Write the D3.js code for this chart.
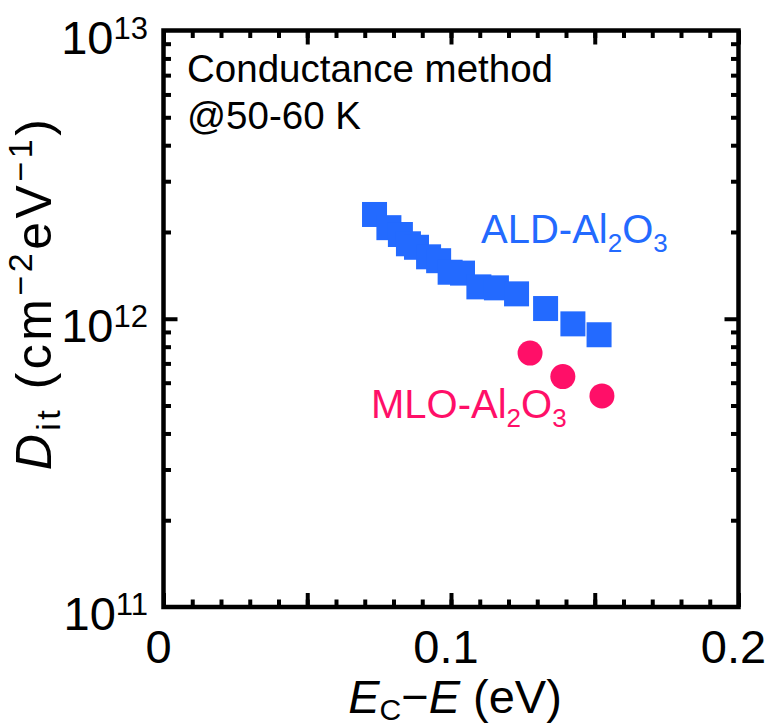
<!DOCTYPE html>
<html>
<head>
<meta charset="utf-8">
<script src="https://cdn.jsdelivr.net/npm/d3@7"></script>
<style>
  body { margin: 0; background: #fff; }
  svg text { font-family: "Liberation Sans", Arial, sans-serif; }
</style>
</head>
<body>
<div class="chart"></div>
<script>
// ALD-Al2O3 (squares) and MLO-Al2O3 (circles)
const aldE   = [0.0734, 0.0784, 0.0824, 0.0852, 0.0880, 0.0922, 0.0957, 0.0997, 0.1040, 0.1097, 0.1158, 0.1228, 0.1329, 0.1424, 0.1515];
const aldDit = [2.30e12, 2.07e12, 1.96e12, 1.82e12, 1.77e12, 1.64e12, 1.59e12, 1.45e12, 1.44e12, 1.29e12, 1.28e12, 1.22e12, 1.085e12, 0.96e12, 0.88e12];
const mloE   = [0.1275, 0.1389, 0.1525];
const mloDit = [7.6e11, 6.3e11, 5.4e11];

const xTickLabels = [0, 0.1, 0.2];
const yTickExps = [11, 12, 13];

const W = 775, H = 725;
const mLeft = 163.5, mRight = 738.5, mTop = 30.5, mBottom = 607;
const blue = "#236AFF", pink = "#FF0F68";

const svg = d3.select(".chart").append("svg")
    .attr("width", W).attr("height", H);

const x = d3.scaleLinear().domain([0, 0.2]).range([mLeft, mRight]);
const y = d3.scaleLog().domain([1e11, 1e13]).range([mBottom, mTop]);

// ticks: minor every 0.01, major every 0.05 (inward)
const xMinor = d3.range(0, 0.2001, 0.01);
const xMajor = d3.range(0, 0.2001, 0.05);
const yMinor = [];
[1e11, 1e12].forEach(d => { for (let k = 2; k <= 9; k++) yMinor.push(d * k); });
const yMajor = [1e12];

const minorLen = 7.5, majorLen = 14;

function tickAxis(axis, vals, len, tx) {
    const g = svg.append("g").attr("transform", tx)
        .call(axis.tickValues(vals).tickSizeInner(-len).tickSizeOuter(0).tickFormat(""));
    g.select(".domain").remove();
    g.selectAll("line").attr("stroke", "#000").attr("stroke-width", 4);
}
tickAxis(d3.axisBottom(x), xMinor, minorLen, `translate(0,${mBottom})`);
tickAxis(d3.axisBottom(x), xMajor, majorLen, `translate(0,${mBottom})`);
tickAxis(d3.axisTop(x), xMinor, minorLen, `translate(0,${mTop})`);
tickAxis(d3.axisTop(x), xMajor, majorLen, `translate(0,${mTop})`);
tickAxis(d3.axisLeft(y), yMinor, minorLen, `translate(${mLeft},0)`);
tickAxis(d3.axisLeft(y), yMajor, majorLen, `translate(${mLeft},0)`);
tickAxis(d3.axisRight(y), yMinor, minorLen, `translate(${mRight},0)`);
tickAxis(d3.axisRight(y), yMajor, majorLen, `translate(${mRight},0)`);

// frame
svg.append("rect")
    .attr("x", mLeft).attr("y", mTop)
    .attr("width", mRight - mLeft).attr("height", mBottom - mTop)
    .attr("fill", "none").attr("stroke", "#000").attr("stroke-width", 4.5);

// tick labels
svg.selectAll(".xlab").data(xTickLabels).enter().append("text")
    .attr("x", d => x(d) - 5)
    .attr("y", mBottom + 56)
    .attr("text-anchor", "middle")
    .attr("font-size", 47)
    .text(d => d === 0 ? "0" : d3.format(".1f")(d));

const ylab = svg.selectAll(".ylab").data(yTickExps).enter().append("text")
    .attr("x", 148)
    .attr("y", d => y(Math.pow(10, d)) + 23)
    .attr("text-anchor", "end")
    .attr("font-size", 47);
ylab.append("tspan").text("10");
ylab.append("tspan").attr("font-size", 31).attr("dy", -15).text(d => d);

// data
svg.selectAll(".ald").data(aldE).enter().append("rect")
    .attr("x", (d, i) => x(d) - 12.5)
    .attr("y", (d, i) => y(aldDit[i]) - 12.5)
    .attr("width", 25).attr("height", 25)
    .attr("fill", blue);

svg.selectAll(".mlo").data(mloE).enter().append("circle")
    .attr("cx", d => x(d))
    .attr("cy", (d, i) => y(mloDit[i]))
    .attr("r", 12.5)
    .attr("fill", pink);

// annotations
svg.append("text").attr("x", 187).attr("y", 82).attr("font-size", 38.5).text("Conductance method");
svg.append("text").attr("x", 187).attr("y", 129).attr("font-size", 38.5).text("@50-60 K");

const ald = svg.append("text").attr("x", 481).attr("y", 243).attr("font-size", 40).attr("fill", blue);
ald.append("tspan").text("ALD-Al");
ald.append("tspan").attr("font-size", 26).attr("dy", 9).text("2");
ald.append("tspan").attr("dy", -9).text("O");
ald.append("tspan").attr("font-size", 26).attr("dy", 9).text("3");

const mlo = svg.append("text").attr("x", 371).attr("y", 418).attr("font-size", 40).attr("fill", pink);
mlo.append("tspan").text("MLO-Al");
mlo.append("tspan").attr("font-size", 26).attr("dy", 9).text("2");
mlo.append("tspan").attr("dy", -9).text("O");
mlo.append("tspan").attr("font-size", 26).attr("dy", 9).text("3");

// axis titles
const xt = svg.append("text").attr("x", 455).attr("y", 713)
    .attr("text-anchor", "middle").attr("font-size", 47);
xt.append("tspan").attr("font-style", "italic").text("E");
xt.append("tspan").attr("font-size", 30).attr("dy", 7).text("C");
xt.append("tspan").attr("dy", -7).text("\u2212");
xt.append("tspan").attr("font-style", "italic").text("E");
xt.append("tspan").text(" (eV)");

const yt = svg.append("text")
    .attr("transform", "translate(51,293) rotate(-90)")
    .attr("text-anchor", "middle").attr("font-size", 50)
    .attr("letter-spacing", 3.5);
yt.append("tspan").attr("font-style", "italic").text("D");
yt.append("tspan").attr("font-size", 34).attr("dy", 9).text("it");
yt.append("tspan").attr("dy", -9).text(" (cm");
yt.append("tspan").attr("font-size", 34).attr("dy", -19).text("\u22122");
yt.append("tspan").attr("dy", 19).text("eV");
yt.append("tspan").attr("font-size", 34).attr("dy", -19).text("\u22121");
yt.append("tspan").attr("dy", 19).text(")");
</script>
</body>
</html>
